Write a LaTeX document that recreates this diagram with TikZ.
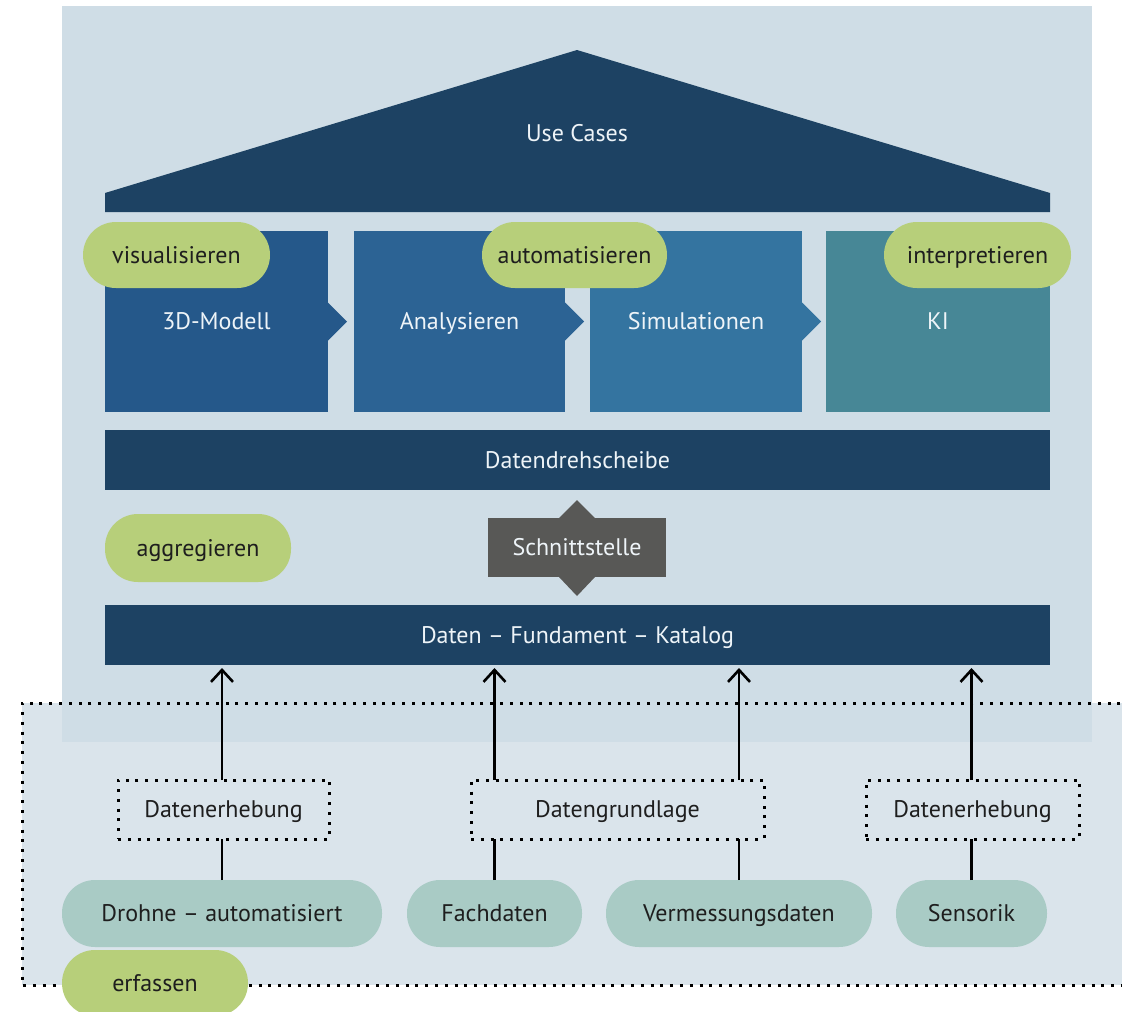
\documentclass[tikz,border=0pt]{standalone}
\usepackage{fontspec}
\setmainfont{PT Sans}
\usetikzlibrary{arrows.meta,calc}

\definecolor{panelbg}{HTML}{CFDDE6}
\definecolor{lowbg}{HTML}{DAE4EB}
\definecolor{navy}{HTML}{1D4263}
\definecolor{colA}{HTML}{25588A}
\definecolor{colB}{HTML}{2C6394}
\definecolor{colC}{HTML}{3474A0}
\definecolor{colD}{HTML}{478796}
\definecolor{leaf}{HTML}{B7CF7A}
\definecolor{sage}{HTML}{A9CBC5}
\definecolor{slate}{HTML}{585856}
\definecolor{ink}{HTML}{1E1E1E}
\definecolor{pale}{HTML}{EEF4F8}

\tikzset{
  every node/.style={inner sep=0pt, outer sep=0pt, font=\fontsize{24}{28}\selectfont,
                     text height=20pt, text depth=3.2pt},
  column/.style={minimum height=181pt, text=pale},
  bar/.style={fill=navy, minimum width=945pt, minimum height=60pt, text=pale},
  verb/.style={fill=leaf, text=ink, rounded corners=32.9pt, minimum height=66pt},
  source/.style={fill=sage, text=ink, rounded corners=33pt, minimum height=67pt},
  dotbox/.style={draw=black, line width=3pt, dash pattern=on 3pt off 6.8pt,
                 minimum height=59pt, text=ink},
  dotline/.style={draw=black, line width=3pt, dash pattern=on 3pt off 6.8pt},
  conn/.style={draw=black, line width=2.6pt},
  uparrow/.style={conn, -{Straight Barb[length=12pt, width=22pt, line width=2.6pt]}, shorten >=3pt},
}

\begin{document}
\begin{tikzpicture}[x=1pt, y=-1pt]
\useasboundingbox (0,0) rectangle (1122,1012);

% lower band for data acquisition
\fill[lowbg] (22,703) rectangle (1140,985);

% house background
\fill[panelbg] (62,6) rectangle (1092,742);

% roof
\fill[navy] (105,212) -- (105,193) -- (577,50) -- (1050,193) -- (1050,212) -- cycle;
\node[text=pale] (usecases) at (577,133) {Use Cases};

% columns with process chevrons
\node[column, fill=colA, minimum width=223pt] (modell) at (216.5,321.5) {3D-Modell};
\node[column, fill=colB, minimum width=211pt] (analyse) at (459.5,321.5) {Analysieren};
\node[column, fill=colC, minimum width=212pt] (simul) at (696,321.5) {Simulationen};
\node[column, fill=colD, minimum width=224pt] (ki) at (938,321.5) {KI};
\foreach \b/\c in {modell/colA, analyse/colB, simul/colC}
  \fill[\c] ($(\b.east)+(0,-19)$) -- ($(\b.east)+(19,0)$) -- ($(\b.east)+(0,19)$) -- cycle;

% activity labels on the columns
\node[verb, minimum width=187pt] (visual) at (176.5,255) {visualisieren};
\node[verb, minimum width=185pt] (auto) at (574.5,255) {automatisieren};
\node[verb, minimum width=187pt] (interp) at (977.5,255) {interpretieren};

% data hub
\node[bar] (hub) at (577.5,460) {Datendrehscheibe};

% aggregation and interface
\node[verb, minimum width=186pt, minimum height=68pt] (aggr) at (198,548) {aggregieren};
\node[fill=slate, text=pale, minimum width=178pt, minimum height=59pt] (iface) at (577,547.5) {Schnittstelle};
\fill[slate] ($(iface.north)+(-18,0)$) -- ($(iface.north)+(0,-18)$) -- ($(iface.north)+(18,0)$) -- cycle;
\fill[slate] ($(iface.south)+(-18,0)$) -- ($(iface.south)+(0,19)$) -- ($(iface.south)+(18,0)$) -- cycle;

% foundation
\node[bar] (fund) at (577.5,635) {Daten – Fundament – Katalog};

% dotted outline of the acquisition band
\draw[dotline] (1140,703) -- (22,703) -- (22,985) -- (1140,985);

% data sources
\node[source, minimum width=320pt] (drohne) at (222,913.5) {Drohne – automatisiert};
\node[source, minimum width=175pt] (fach) at (494.5,913.5) {Fachdaten};
\node[source, minimum width=266pt] (verm) at (739,913.5) {Vermessungsdaten};
\node[source, minimum width=151pt] (sens) at (971.5,913.5) {Sensorik};

% acquisition categories
\node[dotbox, minimum width=211pt] (erh1) at (223.5,809.5) {Datenerhebung};
\node[dotbox, minimum width=293pt] (grund) at (617.5,809.5) {Datengrundlage};
\node[dotbox, minimum width=213pt] (erh2) at (972.5,809.5) {Datenerhebung};

% connectors
\draw[conn] (drohne.north) -- (drohne.north |- erh1.south);
\draw[conn] (fach.north) -- (fach.north |- grund.south);
\draw[conn] (verm.north) -- (verm.north |- grund.south);
\draw[conn] (sens.north) -- (sens.north |- erh2.south);
\draw[uparrow] (drohne.north |- erh1.north) -- (drohne.north |- fund.south);
\draw[uparrow] (fach.north |- grund.north) -- (fach.north |- fund.south);
\draw[uparrow] (verm.north |- grund.north) -- (verm.north |- fund.south);
\draw[uparrow] (sens.north |- erh2.north) -- (sens.north |- fund.south);

% capture label
\node[verb, minimum width=186pt] (erfassen) at (155,983) {erfassen};
\end{tikzpicture}
\end{document}
